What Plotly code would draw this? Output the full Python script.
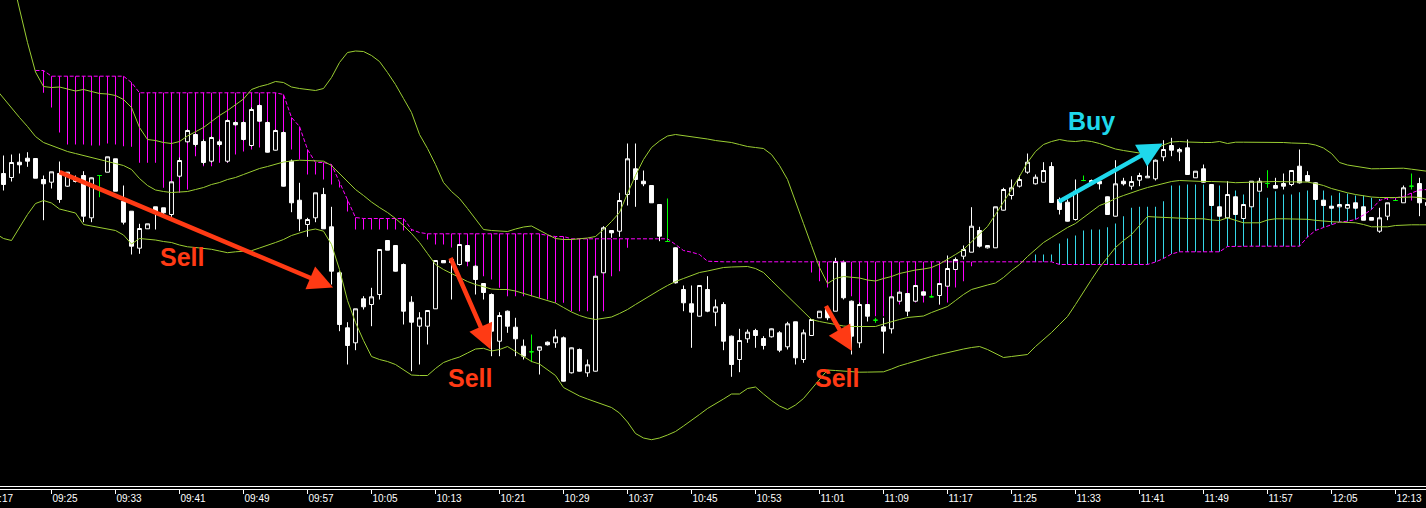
import pandas as pd
import plotly.graph_objects as go

# ---------------- data (1-minute bars) ----------------
times = pd.date_range("2024-01-01 09:18", periods=180, freq="min")

open_ = [
    332, 326, 322, 337.3, 341.3, 341, 320, 317.3, 326, 313.3,
    318, 324, 281.7, 324, 327.3, 340.7, 298.3, 288.3, 251.3, 270.7,
    292.7, 291.7, 285, 323.3, 357.7, 365, 358, 338.3, 357.7, 338.3,
    377, 377, 354, 394, 377, 349.3, 367, 338.3, 299.3, 275,
    281.7, 305, 272.7, 226.7, 171.7, 156.7, 200.7, 195, 205, 259,
    254, 235, 197.3, 173.3, 173.3, 190.7, 239, 240, 235, 254,
    233.3, 216, 205, 158.3, 188.3, 172.3, 153.3, 147.7, 149.3, 157.3,
    156.7, 161.7, 126.7, 150, 126.7, 128.3, 226.7, 269, 268.3, 305,
    330.7, 318.3, 314, 295, 258, 251.7, 210, 195.7, 183.3, 210,
    187.3, 195, 163.3, 140, 160.7, 169, 161, 162.7, 166.7, 152.7,
    177.7, 140, 164, 181.7, 190, 188.3, 237.3, 198.3, 156.7, 195,
    179.3, 172.7, 170.7, 198.3, 206, 198.3, 207.7, 202.7, 204, 213.3,
    230, 243.3, 247.3, 269, 251.7, 251.7, 289.3, 304, 313.3, 327.3,
    315.7, 317.3, 333, 300, 297.3, 280, 319, 317, 318.3, 302.7,
    283.3, 318.3, 313.3, 319.3, 321.7, 320.7, 342.7, 354, 347.7, 351.7,
    321.7, 330.7, 315, 292.7, 281.7, 302.7, 281, 292.7, 308.3, 316,
    314, 316, 315, 333.3, 324, 316.7, 299.3, 293.3, 292.7, 291.3,
    296.7, 292.7, 282, 268.3, 283.3, 299, 296.7, 313.3, 316, 297,
]
high = [
    340, 344, 345, 346, 347.3, 341, 324, 327.7, 338, 327.3,
    324, 328.3, 322, 324, 342.7, 340.7, 314, 288.3, 275.7, 275.7,
    292.7, 291.7, 317.7, 342, 370, 366, 360, 363, 360, 380,
    378, 378, 392, 395, 378, 370, 368, 340, 316.7, 281.7,
    306.7, 311.7, 292.7, 228.3, 177.3, 190.7, 203.3, 211.7, 250, 259,
    254, 236, 203.3, 187.3, 189, 239, 239, 241, 255, 254,
    234, 216, 206, 187.3, 189, 181.7, 160, 165, 152.7, 158,
    170, 163, 152, 151, 140, 223.3, 273.3, 269, 306.7, 356,
    356, 329, 314, 295, 301, 252, 214, 214, 214, 223.3,
    200, 197.3, 164, 170.7, 170, 170.7, 163.3, 171, 168.3, 177.7,
    177.7, 170, 180, 188.3, 192.7, 241.7, 239, 199, 197, 195,
    181.7, 181.7, 202.7, 208, 206, 214, 208, 205, 216, 244,
    242, 254, 292.3, 272.7, 254, 292.7, 311.7, 320, 324, 346,
    325, 337.3, 337.3, 302, 300, 320, 324, 320, 319, 303,
    339.3, 321.7, 323.3, 326.7, 335, 340, 359.3, 361.7, 351.7, 360,
    328.3, 335, 315, 293, 318.3, 303, 295, 318.3, 321.7, 329.3,
    321.7, 326, 329, 350, 328.3, 317, 299.3, 293.3, 295, 295,
    296.7, 292.7, 282, 291.7, 296.7, 299, 314, 326, 321.7, 302,
]
low = [
    318, 309, 318, 326, 332.7, 321.3, 279.3, 311, 296.7, 312.7,
    317, 277.3, 277.3, 302.3, 327.3, 308.3, 275, 245, 245.7, 270.7,
    270, 283.3, 282.7, 322, 357, 353, 335, 337, 353, 337,
    374, 359, 353, 378, 347, 349, 313, 287.3, 268.3, 262.7,
    277.3, 270.7, 215, 168.3, 135, 149.3, 190, 173.3, 200, 249.3,
    228, 175, 128.3, 135, 155, 190.7, 236.7, 200, 234, 238,
    205, 200, 143.3, 143.3, 166.7, 143.3, 140, 137.3, 125, 154,
    151.7, 118, 126, 128, 122.7, 128, 226.7, 261.7, 262.7, 294,
    292.7, 313.3, 296.7, 258.3, 257.7, 216, 188.3, 151.7, 183, 187.3,
    173.3, 149.3, 122.7, 127.3, 156.7, 151.7, 150, 162, 147.3, 150,
    135, 136.7, 164, 181.7, 179.3, 188.3, 200, 145, 151.7, 178,
    176.7, 146, 166, 198, 183.3, 198, 204, 202, 195, 213,
    230, 240, 247.3, 252, 251, 251.7, 289, 300, 312, 325.7,
    315, 317, 296.7, 285, 278, 279, 318.3, 316, 310, 285,
    283, 314, 310, 313.3, 321.7, 319, 338.3, 343.3, 338.3, 325,
    321.7, 317, 294, 283, 281.7, 285, 281, 292.7, 308, 311.7,
    311, 310, 313.3, 316, 318, 300, 294, 291.3, 292.7, 291.3,
    291.3, 279.3, 279.3, 266.7, 279.3, 299, 296.7, 310, 283.3, 292,
]
close = [
    324, 315, 337, 334.7, 338.3, 321.3, 315.7, 327.7, 300, 327.3,
    321, 283.3, 321.7, 324, 342.7, 308.3, 277.3, 253.3, 271, 275.7,
    286.7, 286.7, 317.7, 339, 369, 355, 337, 362, 355, 379,
    374.7, 360, 390, 378.3, 347.3, 369, 313.3, 296.7, 280.7, 280,
    306.7, 270.7, 228.3, 175, 154, 190.7, 192.7, 202.7, 250, 249.3,
    228.3, 188.3, 177.3, 181.7, 189, 239, 236.7, 237, 255, 238.3,
    220, 207, 168.3, 184, 173.3, 160.7, 143.3, 147.7, 152.7, 154.7,
    162.7, 118.3, 151.7, 128.3, 134.7, 223.3, 271.7, 266.7, 299, 340.7,
    320, 315.7, 296.7, 263.3, 258, 216.7, 196.7, 187.3, 214, 188.3,
    192.7, 158.3, 135, 159, 167.3, 164, 154, 170.7, 149.3, 175.7,
    141.7, 166.7, 180, 188.3, 181.7, 238, 201.7, 163.3, 195, 183.3,
    179.3, 168.3, 202.7, 207.3, 188.3, 214, 204.3, 202.7, 216, 231,
    240, 250, 273.3, 253.3, 254, 292.7, 310, 311.7, 320, 337.3,
    322.3, 329, 297, 290, 278.3, 308.3, 319, 319, 315.7, 285,
    315.7, 315.7, 318, 324, 323.3, 339.3, 350, 349.3, 350, 325,
    328.3, 317.3, 294, 283.3, 305, 285, 295, 318.3, 318.3, 316,
    311.3, 313.3, 329, 316.7, 318.3, 300, 294, 291.3, 295, 295,
    291.3, 279.3, 279.3, 281.7, 296.7, 299, 311.7, 313.3, 296.7, 294,
]

# Bollinger bands
bb_upper = [
    585, 555, 525, 490.5, 457, 427.5, 413, 412, 412.5, 410.5,
    408.5, 410, 408, 406, 405.5, 404, 400, 392, 372, 360,
    359, 357, 356, 358, 363.5, 368, 372, 378, 384, 389,
    395, 400.5, 410, 413, 415, 418, 417, 412.5, 411, 410,
    409, 411, 422, 437, 447, 448.5, 448, 444, 438, 427,
    415, 401, 387, 365, 351, 335, 317, 308, 301, 291,
    280, 270, 269, 268.5, 268, 270.5, 272.5, 273.5, 269, 265,
    261, 260, 260, 260.5, 261.5, 263, 270, 278, 287, 306,
    324, 340, 352, 358.5, 363.5, 365, 364, 363, 362, 360.5,
    359, 358, 357, 355, 353, 352, 351, 345, 334, 320,
    297, 276, 254, 232, 216, 221, 223, 222.5, 221.5, 219.5,
    218.5, 221, 223, 226, 228, 229.5, 230.5, 232, 235.5, 240,
    245, 250, 258, 265, 273, 285, 297, 310, 323, 337,
    348, 355, 358, 360, 358.5, 358, 359, 358, 356, 353.5,
    350.5, 349, 348, 346.5, 347, 351, 354.5, 357.5, 358, 357.5,
    357, 357, 357, 358, 356, 357.3, 357.3, 357.3, 357.3, 357,
    357, 357, 356.5, 356.5, 356, 354.5, 351.5, 346, 337, 334.5,
    333, 331.5, 330.7, 330.8, 331, 331.2, 331.3, 330.3, 329.2, 328.2,
]
bb_mid = [
    411, 401, 391, 382, 373, 363, 357, 354, 351, 348,
    346, 344, 342, 340, 338.5, 336, 334, 330, 321, 314,
    309.5, 308, 307, 307.5, 308, 310, 312, 315, 317, 320,
    322, 325, 328, 331, 333, 335.5, 337.5, 338.5, 339.3, 339,
    338.7, 338.3, 334, 326, 317, 310, 304, 297.5, 292, 287,
    281, 274, 266, 257, 246, 235, 230, 226, 222.5, 218,
    215, 212.5, 210.5, 210, 210, 208.5, 206, 203.5, 201, 199,
    196.5, 192, 187.5, 184, 181.5, 180, 181, 182.5, 186, 190,
    195, 200, 205, 209.5, 214, 218, 221, 224, 227, 228.5,
    230.5, 232, 232.5, 233, 233, 231, 227, 219, 211, 203,
    195, 187, 180, 178, 176.5, 175, 173.5, 173, 173, 173,
    173, 175.5, 178, 180, 182, 183, 183.5, 187, 190, 193,
    199, 205, 210, 212.5, 214.5, 216.5, 222, 229, 235, 243,
    250, 257, 262, 267, 272, 276, 282, 288, 294, 297,
    301, 304, 307, 309.5, 312, 314, 316, 318, 319, 318.5,
    318, 318, 318, 318, 317.5, 316.8, 317, 317.3, 317.8, 318.2,
    318, 317.8, 317.7, 317.5, 317.4, 316, 314, 311, 308.5, 306.7,
    305, 303.5, 302.5, 302, 301.7, 302, 302.2, 302.5, 302, 300,
]
bb_lower = [
    266, 261, 259, 272, 285, 296, 299, 296.5, 290.5, 288.5,
    286.5, 275, 273.5, 272, 271, 269, 264.5, 255.5, 261, 260.5,
    259.5, 258, 257, 254.5, 252.7, 252, 251.3, 250.2, 248.5, 246.8,
    247.7, 248.3, 248.8, 251.5, 254, 257, 260, 264, 266.5, 269,
    270.5, 268.3, 255, 230, 199, 177, 159, 143, 140, 138,
    135, 130, 124.5, 124, 124, 131, 137, 140, 142.5, 146.5,
    150.5, 151.2, 148.5, 150, 153, 148, 143, 138, 135.5, 130,
    124, 112, 108, 103.5, 100.5, 97.5, 95, 92, 86.5, 77.5,
    66, 61.5, 59.8, 61.5, 64.5, 68, 73.5, 79, 85, 91,
    95.5, 100.5, 105.5, 105.5, 111, 112.5, 105.5, 99, 93.5, 90,
    94.5, 101, 110.5, 120, 129.5, 129, 128.2, 127.7, 127.3, 127.4,
    127.5, 127.7, 130.5, 133.7, 136, 138.5, 141, 143, 145, 147,
    149, 150.5, 152, 153, 150, 146, 142, 143, 144, 145,
    153, 160, 167, 175, 183, 195, 208, 220, 232, 242,
    252, 259, 265, 274, 283, 282.5, 282, 281.5, 281, 281,
    280.8, 280.7, 279.5, 279, 281.7, 279, 276.7, 276.7, 276.7, 279.5,
    280.7, 280.7, 280.7, 280.7, 280.2, 279.2, 278.3, 277.8, 277.4, 277,
    276.7, 275, 272.7, 272.7, 272.7, 274, 274.7, 274.7, 274.7, 274.7,
]

# Ichimoku cloud (Senkou span A / B, already shifted)
span_a = [
    None, None, None, None, None, 429, 406.7, 392, 367, 355,
    355, 355, 354, 354, 356, 355, 353.3, 352.7, 336.7, 336.7,
    336.7, 311.7, 308.3, 306.7, 310, 343.3, 333.3, 333.3, 336.7, 336.7,
    345, 348, 350, 352, 352, 352, 350, 350, 340, 325,
    325, 320, 315, 312, 288, 270, 270, 270, 270, 270,
    270, 269, 269, 267, 260, 255, 255, 252, 242, 233.3,
    223.3, 223.3, 220, 211.7, 203.3, 203.3, 203.3, 203.3, 201.7, 200,
    196.7, 196.7, 188.3, 188.3, 188.3, 188.3, 188.3, 223.3, 228.3, 251.7,
    260.7, 260.7, 260.7, 260.7, 260.7, 255, 249, 247.3, 245, 238.3,
    237.7, 237.7, 237.7, 237.7, 237.7, 237.7, 237.7, 237.7, 237.7, 237.7,
    237.7, 237.7, 227, 218.3, 212, 207, 202, 203.3, 195, 185,
    183.3, 183.3, 200, 195, 195, 197, 197, 203, 195, 197,
    212, 218.3, 233.3, 237.7, 237.7, 237.7, 237.7, 237.7, 237.7, 237.7,
    245, 245, 245, 256, 261, 264, 269, 270, 270, 272.3,
    276, 283.3, 291.7, 292.7, 292.7, 292.7, 298.3, 314, 314, 315,
    315, 315, 315, 314, 310, 309, 305, 307, 307.3, 301.7,
    308.3, 305, 305, 307.3, 309, 309, 309, 304, 306.7, 306,
    304, 304, 301.7, 300, 300, 299.5, 299, 299, 299, 299,
]
span_b = [
    None, None, None, None, None, 429, 429, 423.3, 423.3, 423.3,
    423.3, 423.3, 423.3, 423.3, 423.3, 423.3, 423.3, 417, 406.7, 406.7,
    406.7, 406.7, 406.7, 406.7, 406.7, 406.7, 406.7, 406.7, 406.7, 406.7,
    406.7, 406.7, 406.7, 406.7, 406.7, 406.7, 405, 382, 373, 350,
    337, 337, 335, 317, 300, 282, 281, 281, 281, 281,
    281, 281, 270, 267, 265.7, 265.7, 265.7, 265.7, 265.7, 265.7,
    265.7, 265.7, 265.7, 265.7, 265.7, 265.7, 265.7, 265.7, 265.7, 264,
    263, 263, 260.7, 260.7, 260.7, 260.7, 260.7, 260.7, 260.7, 260.7,
    260.7, 260.7, 260.7, 260.7, 260.7, 255, 249, 247.3, 245, 238.3,
    237.7, 237.7, 237.7, 237.7, 237.7, 237.7, 237.7, 237.7, 237.7, 237.7,
    237.7, 237.7, 237.7, 237.7, 237.7, 237.7, 237.7, 237.7, 237.7, 237.7,
    237.7, 237.7, 237.7, 237.7, 237.7, 237.7, 237.7, 237.7, 237.7, 237.7,
    237.7, 237.7, 237.7, 237.7, 237.7, 237.7, 237.7, 237.7, 237.7, 237.7,
    237.7, 237.7, 237.7, 235, 235, 235, 235, 235, 235, 235,
    235, 235, 235, 235, 235, 237.5, 241, 245.5, 247.7, 247.7,
    247.7, 247.7, 247.7, 247.7, 253, 253.3, 253.3, 253.3, 253.3, 253.3,
    253.3, 253.3, 253.3, 253.3, 262.5, 269, 272, 275, 277.5, 278.3,
    280, 284.5, 290, 299, 301.7, 301.7, 303, 306.5, 309.5, 310,
]

# annotations: (tail time, tail price, tip time, tip price)
sell_arrows = [
    ("2024-01-01 09:25:50", 328, "2024-01-01 10:00:12", 212),
    ("2024-01-01 10:14:48", 243, "2024-01-01 10:19:54", 150),
    ("2024-01-01 11:01:42", 195, "2024-01-01 11:05:03", 148.5),
]
buy_arrows = [("2024-01-01 11:30:45", 297, "2024-01-01 11:43:54", 356)]
sell_labels = [("2024-01-01 09:41:18", 242.5), ("2024-01-01 10:17:18", 122), ("2024-01-01 11:03:12", 122)]
buy_labels = [("2024-01-01 11:35:00", 379)]
first_tick_label = "09:17"

# ---------------- styling ----------------
BAND = "#9ACD32"
MAGENTA = "#FF00FF"
CYAN = "#36D7E8"
SELL = "#FF3A14"
BUY = "#1ED8EC"
FONT = "Liberation Sans, Arial, sans-serif"

fig = go.Figure()

# cloud hatching (vertical strokes between span A and span B)
hx, hbase, hlen, hcol = [], [], [], []
for t, a, b in zip(times, span_a, span_b):
    if a is None or b is None or a == b:
        continue
    hx.append(t)
    hbase.append(min(a, b))
    hlen.append(abs(a - b))
    hcol.append(MAGENTA if b > a else CYAN)
fig.add_trace(go.Bar(x=hx, y=hlen, base=hbase, width=7500,
                     marker=dict(color=hcol, line=dict(width=0)),
                     hoverinfo="skip", showlegend=False))

# candles
n = len(times)
main = [k for k in range(n) if open_[k] != close[k]]
doji = [k for k in range(n) if open_[k] == close[k]]


def pick(arr, idx):
    return [arr[k] for k in idx]


fig.add_trace(go.Candlestick(
    x=pick(times, main), open=pick(open_, main), high=pick(high, main),
    low=pick(low, main), close=pick(close, main),
    increasing=dict(line=dict(color="white", width=1), fillcolor="black"),
    decreasing=dict(line=dict(color="white", width=1), fillcolor="white"),
    hoverinfo="skip", showlegend=False))
fig.add_trace(go.Candlestick(
    x=pick(times, doji), open=pick(open_, doji), high=pick(high, doji),
    low=pick(low, doji), close=pick(close, doji),
    increasing=dict(line=dict(color="#00FF00", width=1), fillcolor="#00FF00"),
    decreasing=dict(line=dict(color="#00FF00", width=1), fillcolor="#00FF00"),
    hoverinfo="skip", showlegend=False))

# senkou span B (dotted)
fig.add_trace(go.Scatter(x=times, y=span_b, mode="lines",
                         line=dict(color=MAGENTA, width=1, dash="4px,2px"),
                         hoverinfo="skip", showlegend=False))
# bollinger bands
for band in (bb_upper, bb_mid, bb_lower):
    fig.add_trace(go.Scatter(x=times, y=band, mode="lines",
                             line=dict(color=BAND, width=1),
                             hoverinfo="skip", showlegend=False))

annotations = []
for tx, ty, hx_, hy_ in sell_arrows:
    annotations.append(dict(x=hx_, y=hy_, ax=tx, ay=ty, xref="x", yref="y",
                            axref="x", ayref="y", text="", showarrow=True,
                            arrowhead=2, arrowsize=1.1, arrowwidth=4.5,
                            arrowcolor=SELL, standoff=0))
for tx, ty, hx_, hy_ in buy_arrows:
    annotations.append(dict(x=hx_, y=hy_, ax=tx, ay=ty, xref="x", yref="y",
                            axref="x", ayref="y", text="", showarrow=True,
                            arrowhead=2, arrowsize=1.1, arrowwidth=4.5,
                            arrowcolor=BUY, standoff=0))
for lx, ly in sell_labels:
    annotations.append(dict(x=lx, y=ly, xref="x", yref="y", text="<b>Sell</b>",
                            showarrow=False, font=dict(family=FONT, size=25, color=SELL)))
for lx, ly in buy_labels:
    annotations.append(dict(x=lx, y=ly, xref="x", yref="y", text="<b>Buy</b>",
                            showarrow=False, font=dict(family=FONT, size=25, color=BUY)))
# partially visible first time label (its tick lies just left of the view)
annotations.append(dict(x=-0.0096, y=-0.0185, xref="paper", yref="paper",
                        xanchor="left", yanchor="middle", text=first_tick_label,
                        showarrow=False, font=dict(family=FONT, size=10, color="white")))

fig.update_layout(
    width=1426, height=508,
    margin=dict(l=0, r=0, t=0, b=19, pad=0),
    paper_bgcolor="black", plot_bgcolor="black",
    showlegend=False,
    annotations=annotations,
    shapes=[dict(type="line", xref="paper", x0=0, x1=1, yref="y", y0=13, y1=13,
                 line=dict(color="white", width=1))],
    xaxis=dict(type="date",
               range=["2024-01-01 09:18:33.75", "2024-01-01 12:16:48.75"],
               tick0="2024-01-01 09:25", dtick=480000, tickformat="%H:%M",
               ticks="outside", ticklen=4, tickwidth=1, tickcolor="white",
               ticklabelposition="outside right",
               tickfont=dict(family=FONT, size=10, color="white"),
               showgrid=False, zeroline=False, showline=True,
               linecolor="white", linewidth=1,
               rangeslider=dict(visible=False), fixedrange=True),
    yaxis=dict(range=[10.5, 499.5], visible=False, fixedrange=True),
)

fig.write_html(
    "out.html",
    config={"displayModeBar": False, "responsive": False},
    post_script="document.body.style.margin='0';document.body.style.padding='0';"
                "document.body.style.overflow='hidden';document.body.style.background='black';",
)
